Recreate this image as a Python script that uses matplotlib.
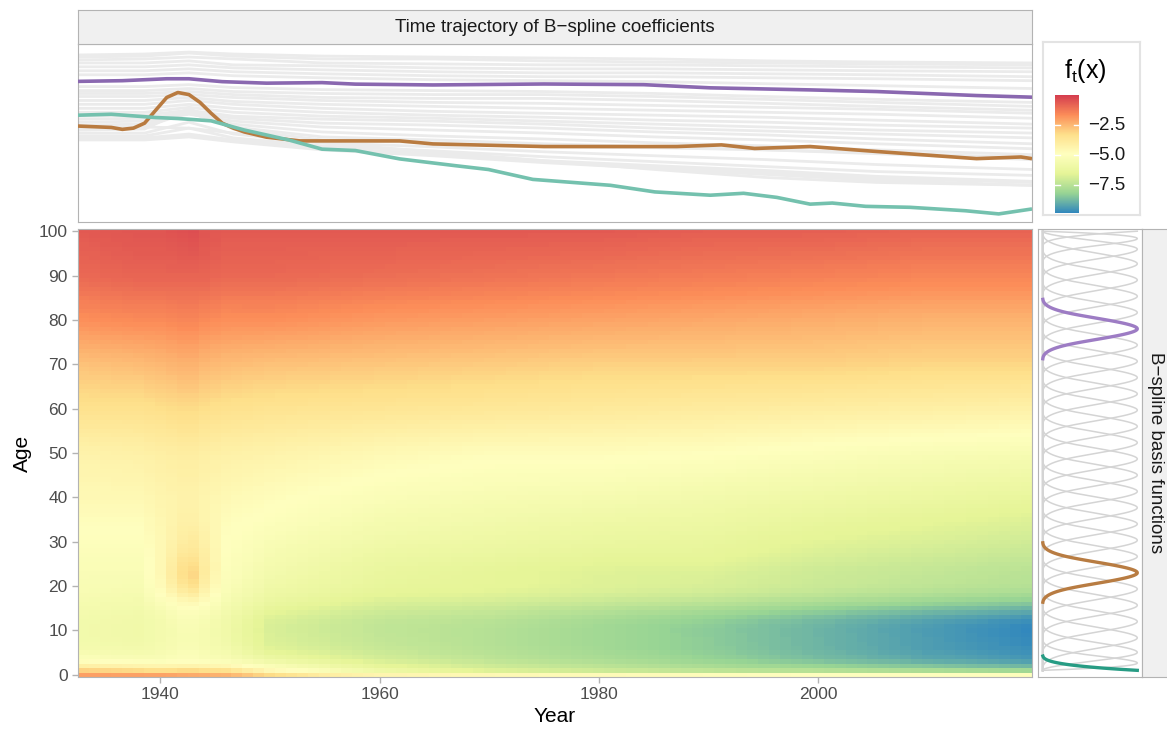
import numpy as np
import matplotlib
matplotlib.use("Agg")
import matplotlib.pyplot as plt
from matplotlib.colors import LinearSegmentedColormap, Normalize

plt.rcParams["font.family"] = ["Liberation Sans", "DejaVu Sans"]

# ---------------- data ----------------
YEARS = np.arange(1933, 2020)
AGES = np.arange(0, 101)
N_BASIS = 30
DEGREE = 3
AGE_LO, AGE_HI = 1, 100

# highlighted coefficient trajectories (basis index -> years, values)
PURPLE_IDX = 22
PURPLE_YEARS = [1933, 1937, 1941, 1943, 1946, 1950, 1955, 1958, 1965, 1975, 1984, 1990, 1999, 2005, 2014, 2019]
PURPLE_COEF = [-2.26, -2.21, -2.07, -2.07, -2.28, -2.39, -2.35, -2.46, -2.52, -2.45, -2.50, -2.73, -2.88, -3.00, -3.29, -3.41]

BROWN_IDX = 7
BROWN_YEARS = [1933, 1936, 1937, 1938, 1939, 1940, 1941, 1942, 1943, 1944, 1945, 1946, 1947, 1948,
               1950, 1953, 1962, 1965, 1975, 1987, 1991, 1994, 1999, 2005, 2014, 2018, 2019]
BROWN_COEF = [-5.51, -5.61, -5.75, -5.66, -5.30, -4.36, -3.43, -3.07, -3.22, -3.79, -4.58, -5.30, -5.66, -5.94,
              -6.32, -6.59, -6.59, -6.81, -7.00, -7.00, -6.88, -7.14, -7.00, -7.36, -7.88, -7.76, -7.88]

TEAL_IDX = 0
TEAL_YEARS = [1933, 1936, 1940, 1942, 1945, 1948, 1952, 1955, 1958, 1962, 1967, 1970, 1974, 1981, 1985,
              1990, 1993, 1996, 1999, 2001, 2004, 2008, 2013, 2016, 2017, 2019]
TEAL_COEF = [-4.72, -4.65, -4.89, -4.96, -5.13, -5.80, -6.52, -7.19, -7.29, -7.90, -8.39, -8.67, -9.39, -9.82, -10.30,
             -10.54, -10.40, -10.70, -11.19, -11.11, -11.35, -11.42, -11.67, -11.90, -11.78, -11.54]

# remaining coefficient trajectories
GRAY_YEARS = [1933, 1939, 1943, 1947, 1955, 1965, 1975, 1985, 1995, 2005, 2019]
GRAY_COEF = {
    29: [-0.34, -0.27, -0.13, -0.27, -0.42, -0.49, -0.56, -0.63, -0.77, -0.85, -0.92],
    28: [-0.49, -0.42, -0.20, -0.42, -0.63, -0.63, -0.77, -0.85, -0.92, -0.99, -1.06],
    27: [-0.70, -0.63, -0.49, -0.63, -0.92, -0.99, -1.06, -1.06, -1.13, -1.20, -1.28],
    26: [-0.92, -0.92, -0.77, -1.06, -1.13, -1.28, -1.35, -1.35, -1.42, -1.49, -1.56],
    25: [-1.20, -1.20, -1.06, -1.28, -1.42, -1.56, -1.64, -1.64, -1.71, -1.78, -1.92],
    24: [-1.49, -1.49, -1.35, -1.56, -1.71, -1.85, -1.92, -1.92, -2.00, -2.07, -2.21],
    23: [-1.78, -1.78, -1.64, -1.85, -2.00, -2.14, -2.21, -2.28, -2.43, -2.57, -2.78],
    21: [-2.64, -2.64, -2.50, -2.71, -2.86, -2.93, -3.00, -3.14, -3.36, -3.57, -3.79],
    20: [-2.93, -2.93, -2.78, -3.00, -3.14, -3.22, -3.22, -3.36, -3.57, -3.79, -4.08],
    19: [-3.14, -3.14, -3.00, -3.22, -3.43, -3.50, -3.50, -3.65, -3.86, -4.08, -4.36],
    18: [-3.36, -3.36, -3.22, -3.43, -3.65, -3.79, -3.86, -4.01, -4.15, -4.29, -4.58],
    17: [-3.65, -3.65, -3.43, -3.72, -3.93, -4.08, -4.22, -4.36, -4.51, -4.65, -4.94],
    16: [-3.93, -3.93, -3.65, -3.93, -4.22, -4.44, -4.58, -4.72, -4.87, -5.08, -5.37],
    15: [-4.22, -4.22, -3.93, -4.22, -4.51, -4.72, -4.87, -5.08, -5.23, -5.44, -5.66],
    14: [-4.51, -4.51, -4.15, -4.51, -4.79, -4.94, -5.15, -5.37, -5.58, -5.80, -6.02],
    13: [-4.79, -4.72, -4.36, -4.79, -5.01, -5.15, -5.37, -5.66, -5.87, -6.09, -6.37],
    12: [-5.01, -4.94, -4.51, -4.94, -5.30, -5.44, -5.66, -5.94, -6.16, -6.45, -6.80],
    11: [-5.23, -5.15, -4.65, -5.15, -5.58, -5.80, -6.02, -6.30, -6.52, -6.80, -7.16],
    10: [-5.44, -5.37, -4.58, -5.37, -5.94, -6.23, -6.45, -6.73, -6.95, -7.24, -7.59],
    9:  [-5.66, -5.58, -4.51, -5.58, -6.30, -6.52, -6.80, -7.02, -7.24, -7.45, -7.81],
    8:  [-5.80, -5.73, -4.22, -5.73, -6.52, -6.73, -7.02, -7.09, -7.24, -7.52, -7.95],
    6:  [-6.02, -6.02, -5.23, -6.09, -6.73, -7.02, -7.38, -7.67, -7.95, -8.31, -8.67],
    5:  [-6.23, -6.23, -5.66, -6.37, -6.95, -7.31, -7.74, -8.10, -8.46, -8.82, -9.10],
    4:  [-6.37, -6.37, -6.09, -6.52, -7.09, -7.52, -8.03, -8.39, -8.74, -9.17, -9.53],
    3:  [-6.52, -6.52, -6.30, -6.66, -7.24, -7.67, -8.17, -8.60, -9.03, -9.46, -9.82],
    2:  [-6.45, -6.45, -6.23, -6.59, -7.16, -7.59, -8.10, -8.53, -8.89, -9.32, -9.61],
    1:  [-5.66, -5.58, -5.66, -6.02, -6.73, -7.38, -8.03, -8.67, -9.25, -9.61, -9.82],
}

# log-rate surface f_t(x): age profiles at selected years
PROFILE_AGES = [1, 2, 3, 5, 8, 12, 15, 18, 22, 26, 30, 35, 40, 50, 60, 70, 80, 90, 100]
PROFILE_YEARS = [1933, 1938, 1940, 1942, 1943, 1944, 1946, 1950, 1960, 1970, 1980, 1990, 2000, 2010, 2019]
PROFILES = [
    [-3.0, -4.2, -4.8, -5.5, -5.7, -5.7, -5.6, -5.4, -5.3, -5.2, -5.0, -4.8, -4.6, -4.3, -3.4, -2.7, -1.7, -0.9, -0.6],
    [-3.2, -4.4, -5.0, -5.6, -5.8, -5.8, -5.7, -5.5, -5.3, -5.2, -5.0, -4.8, -4.6, -4.2, -3.4, -2.6, -1.6, -0.8, -0.5],
    [-3.3, -4.5, -5.0, -5.5, -5.6, -5.6, -5.4, -4.9, -4.6, -4.6, -4.6, -4.5, -4.4, -4.1, -3.3, -2.5, -1.6, -0.8, -0.5],
    [-3.2, -4.4, -4.9, -5.3, -5.4, -5.3, -5.0, -4.2, -3.3, -3.6, -4.0, -4.2, -4.3, -4.0, -3.2, -2.4, -1.5, -0.8, -0.4],
    [-3.2, -4.4, -4.9, -5.3, -5.4, -5.3, -5.0, -4.0, -3.0, -3.5, -3.9, -4.2, -4.3, -4.0, -3.2, -2.4, -1.5, -0.8, -0.35],
    [-3.3, -4.5, -5.0, -5.4, -5.5, -5.4, -5.1, -4.5, -3.9, -4.0, -4.2, -4.4, -4.4, -4.1, -3.3, -2.5, -1.6, -0.8, -0.5],
    [-3.4, -4.6, -5.1, -5.6, -5.8, -5.8, -5.6, -5.3, -5.1, -5.0, -4.9, -4.8, -4.6, -4.2, -3.4, -2.6, -1.7, -0.9, -0.6],
    [-4.6, -5.2, -5.8, -6.5, -6.8, -6.8, -6.4, -6.0, -5.7, -5.5, -5.3, -5.0, -4.8, -4.3, -3.5, -2.7, -1.7, -0.9, -0.6],
    [-6.0, -6.4, -6.8, -7.1, -7.3, -7.3, -7.0, -6.5, -6.3, -6.1, -5.8, -5.5, -5.2, -4.6, -3.6, -2.8, -1.9, -1.0, -0.6],
    [-6.7, -7.0, -7.3, -7.5, -7.6, -7.5, -7.2, -6.6, -6.5, -6.3, -6.0, -5.7, -5.4, -4.8, -3.7, -2.9, -2.0, -1.1, -0.6],
    [-7.1, -7.4, -7.7, -7.9, -8.0, -7.9, -7.5, -6.8, -6.7, -6.5, -6.2, -5.9, -5.5, -4.8, -3.8, -3.0, -2.1, -1.2, -0.6],
    [-7.4, -7.8, -8.1, -8.3, -8.4, -8.3, -7.8, -7.0, -6.8, -6.5, -6.3, -6.0, -5.7, -4.9, -3.9, -3.0, -2.2, -1.3, -0.7],
    [-7.6, -8.1, -8.6, -8.8, -8.9, -8.8, -8.2, -7.3, -7.1, -6.9, -6.6, -6.3, -5.9, -5.1, -4.0, -3.0, -2.3, -1.4, -0.7],
    [-7.8, -8.5, -9.0, -9.3, -9.4, -9.3, -8.6, -7.6, -7.3, -7.1, -6.8, -6.5, -6.1, -5.3, -4.1, -3.1, -2.4, -1.5, -0.8],
    [-8.0, -8.8, -9.3, -9.6, -9.8, -9.7, -8.9, -7.8, -7.5, -7.3, -7.0, -6.7, -6.3, -5.4, -4.2, -3.1, -2.4, -1.5, -0.8],
]
AGE0_YEARS = [1933, 1940, 1946, 1950, 1955, 1960, 1970, 1980, 1990, 2000, 2019]
AGE0_LOGRATE = [-2.0, -2.1, -2.4, -3.2, -4.0, -4.4, -4.6, -4.7, -4.8, -4.9, -5.0]

FILL_LIMITS = (-9.83, 0.0)
FILL_BREAKS = [-2.5, -5.0, -7.5]
SPECTRAL = ["#3288bd", "#99d594", "#e6f598", "#ffffbf", "#fee08b", "#fc8d59", "#d53e4f"]
COL = {PURPLE_IDX: "#8a68b0", BROWN_IDX: "#b97b40", TEAL_IDX: "#74c1ae"}
COL_BASIS = {PURPLE_IDX: "#9d7cc4", BROWN_IDX: "#b87c42", TEAL_IDX: "#279c84"}


def bspline_basis(x, n_basis, degree, lo, hi):
    inner = np.linspace(lo, hi, n_basis - degree + 1)
    t = np.r_[[lo] * degree, inner, [hi] * degree]
    B = np.zeros((len(x), len(t) - 1))
    for i in range(len(t) - 1):
        B[:, i] = (x >= t[i]) & (x < t[i + 1])
    last = np.where(t[:-1] < t[1:])[0][-1]
    B[x >= hi, last] = 1.0
    for d in range(1, degree + 1):
        Bn = np.zeros((len(x), len(t) - 1 - d))
        for i in range(len(t) - 1 - d):
            a = t[i + d] - t[i]
            b = t[i + d + 1] - t[i + 1]
            v = np.zeros(len(x))
            if a > 0:
                v += (x - t[i]) / a * B[:, i]
            if b > 0:
                v += (t[i + d + 1] - x) / b * B[:, i + 1]
            Bn[:, i] = v
        B = Bn
    return B


# smooth each age profile with the B-spline basis, then fill the year axis
ages_pos = AGES[1:].astype(float)
B_int = bspline_basis(ages_pos, N_BASIS, DEGREE, AGE_LO, AGE_HI)
smooth = []
for row in PROFILES:
    prof = np.interp(ages_pos, PROFILE_AGES, row)
    coef, *_ = np.linalg.lstsq(B_int, prof, rcond=None)
    smooth.append(B_int @ coef)
smooth = np.array(smooth)
Z = np.zeros((len(AGES), len(YEARS)))
Z[0] = np.interp(YEARS, AGE0_YEARS, AGE0_LOGRATE)
for k in range(1, len(AGES)):
    Z[k] = np.interp(YEARS, PROFILE_YEARS, smooth[:, k - 1])

cmap = LinearSegmentedColormap.from_list("spectral7", SPECTRAL)
norm = Normalize(*FILL_LIMITS)

# ---------------- layout ----------------
W, H = 1167, 729
fig = plt.figure(figsize=(W / 100, H / 100), dpi=100)


def box(x0, y0, x1, y1):
    return [x0 / W, 1 - y1 / H, (x1 - x0) / W, (y1 - y0) / H]


BORDER = "#b3b3b3"
TXT = "#4d4d4d"

# main heatmap
ax = fig.add_axes(box(78, 229, 1032, 677))
ax.imshow(Z, origin="lower", aspect="auto", cmap=cmap, norm=norm, interpolation="nearest",
          extent=[YEARS[0] - 0.5, YEARS[-1] + 0.5, -0.5, 100.5])
ax.set_xlim(YEARS[0] - 0.5, YEARS[-1] + 0.5)
ax.set_ylim(-0.5, 100.5)
ax.set_xticks([1940, 1960, 1980, 2000])
ax.set_yticks(range(0, 101, 10))
ax.tick_params(colors=BORDER, labelcolor=TXT, labelsize=12.5, length=4, width=1)
ax.set_xlabel("Year", fontsize=15, labelpad=3)
ax.set_ylabel("Age", fontsize=15, labelpad=5)
for s in ax.spines.values():
    s.set_color(BORDER)

# coefficient trajectories
axt = fig.add_axes(box(78, 44, 1032, 222))
allv = []
for i, vals in GRAY_COEF.items():
    axt.plot(GRAY_YEARS, vals, color="#ebebeb", lw=2.0, solid_capstyle="butt", zorder=1)
    allv += vals
for idx, yrs, vals in [(BROWN_IDX, BROWN_YEARS, BROWN_COEF), (TEAL_IDX, TEAL_YEARS, TEAL_COEF),
                       (PURPLE_IDX, PURPLE_YEARS, PURPLE_COEF)]:
    axt.plot(yrs, vals, color=COL[idx], lw=2.6, zorder=3, solid_capstyle="butt")
    allv += vals
lo, hi = min(allv), max(allv)
pad = 0.05 * (hi - lo)
axt.set_ylim(lo - pad, hi + pad)
axt.set_xlim(YEARS[0], YEARS[-1])
axt.set_xticks([]); axt.set_yticks([])
for s in axt.spines.values():
    s.set_color(BORDER)

# top strip
axs = fig.add_axes(box(78, 10, 1032, 44))
axs.set_facecolor("#f0f0f0")
axs.set_xticks([]); axs.set_yticks([])
for s in axs.spines.values():
    s.set_color(BORDER)
axs.text(0.5, 0.5, "Time trajectory of B\u2212spline coefficients", ha="center", va="center",
         fontsize=13.5, color="#1a1a1a", transform=axs.transAxes)

# basis functions
axb = fig.add_axes(box(1038, 229, 1142, 677))
xf = np.linspace(AGE_LO, AGE_HI, 800)
Bf = bspline_basis(xf, N_BASIS, DEGREE, AGE_LO, AGE_HI)
Bf = Bf / Bf.max(axis=0)
for j in range(N_BASIS):
    if j in COL_BASIS:
        continue
    axb.plot(Bf[:, j], xf, color="#d4d4d4", lw=1.1, zorder=1)
for j in [TEAL_IDX, BROWN_IDX, PURPLE_IDX]:
    m = Bf[:, j] > 1e-3
    axb.plot(Bf[m, j], xf[m], color=COL_BASIS[j], lw=2.4, zorder=3)
axb.set_xlim(-0.05, 1.05)
axb.set_ylim(-0.5, 100.5)
axb.set_xticks([]); axb.set_yticks([])
for s in axb.spines.values():
    s.set_color(BORDER)

# right strip
axr = fig.add_axes(box(1142, 229, 1172, 677))
axr.set_facecolor("#f0f0f0")
axr.set_xticks([]); axr.set_yticks([])
for s in axr.spines.values():
    s.set_color(BORDER)
axr.text(0.45, 0.5, "B\u2212spline basis functions", ha="center", va="center", rotation=-90,
         fontsize=13.5, color="#1a1a1a", transform=axr.transAxes)

# legend (colourbar)
axl = fig.add_axes(box(1043, 42, 1140, 215))
axl.set_xticks([]); axl.set_yticks([])
for s in axl.spines.values():
    s.set_color("#e3e3e3")
    s.set_linewidth(1.5)
axl.text(0.44, 0.83, r"$\mathregular{f_t(x)}$", ha="center", va="center", fontsize=18,
         transform=axl.transAxes)
axc = fig.add_axes(box(1055, 95, 1079, 213))
grad = np.linspace(FILL_LIMITS[0], FILL_LIMITS[1], 300).reshape(-1, 1)
axc.imshow(grad, origin="lower", aspect="auto", cmap=cmap, norm=norm,
           extent=[0, 1, FILL_LIMITS[0], FILL_LIMITS[1]])
axc.set_xlim(0, 1)
axc.set_ylim(*FILL_LIMITS)
axc.axis("off")
for v in FILL_BREAKS:
    axc.plot([0, 0.2], [v, v], color="white", lw=1)
    axc.plot([0.8, 1], [v, v], color="white", lw=1)
    axc.text(1.4, v, f"{v:.1f}".replace("-", "\u2212"), va="center", ha="left", fontsize=13.5,
             color="#1a1a1a", clip_on=False)

fig.savefig("out.png", dpi=100)
